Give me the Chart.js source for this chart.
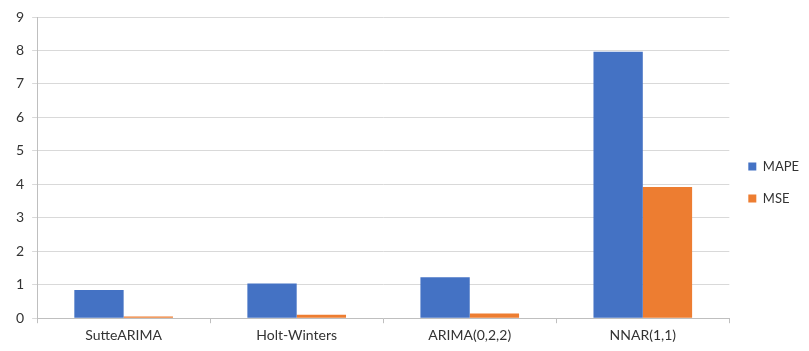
<!DOCTYPE html>
<html>
<head>
<meta charset="utf-8">
<script src="https://cdn.jsdelivr.net/npm/chart.js@4"></script>
<style>
  html, body { margin: 0; padding: 0; background: #fff; }
  #wrap { width: 809px; height: 351px; }
</style>
</head>
<body>
<div id="wrap"><canvas id="chart"></canvas></div>
<script>
"use strict";
// ========== DATA ========== //
const categories = ["SutteARIMA", "Holt-Winters", "ARIMA(0,2,2)", "NNAR(1,1)"];
const mapeValues = [0.84, 1.04, 1.22, 7.96];
const mseValues = [0.05, 0.10, 0.14, 3.92];
const yTicks = [0, 1, 2, 3, 4, 5, 6, 7, 8, 9];

const textColor = "#333333";
const gridColor = "#d9d9d9";
const fontFamily = "Lato, 'Open Sans', sans-serif";

let ctx = document.querySelector('#chart');
let myChart = new Chart(ctx, {
  type: 'bar',
  data: {
    labels: categories,
    datasets: [
      { label: "MAPE", data: mapeValues, backgroundColor: "#4472C4", categoryPercentage: 0.57, barPercentage: 1.0 },
      { label: "MSE", data: mseValues, backgroundColor: "#ED7D31", categoryPercentage: 0.57, barPercentage: 1.0 }
    ]
  },
  options: {
    responsive: true,
    maintainAspectRatio: false,
    animation: false,
    layout: { padding: { top: 17, right: 0, bottom: 3, left: 8 } },
    plugins: {
      tooltip: { enabled: false },
      legend: {
        position: 'right',
        labels: {
          boxWidth: 8,
          boxHeight: 8,
          padding: 19,
          color: textColor,
          font: { family: fontFamily, size: 13 }
        }
      }
    },
    scales: {
      x: {
        grid: { display: true, drawOnChartArea: false, drawTicks: true, tickLength: 5, color: "#bfbfbf" },
        border: { color: "#bfbfbf" },
        ticks: { color: textColor, font: { family: fontFamily, size: 14 }, padding: 4 }
      },
      y: {
        min: 0,
        max: 9,
        afterBuildTicks: function(axis) { axis.ticks = yTicks.map(v => ({ value: v })); },
        grid: { color: gridColor, tickLength: 5 },
        border: { color: "#bfbfbf" },
        ticks: { color: textColor, font: { family: fontFamily, size: 14 }, padding: 8 }
      }
    }
  }
});
</script>
</body>
</html>
